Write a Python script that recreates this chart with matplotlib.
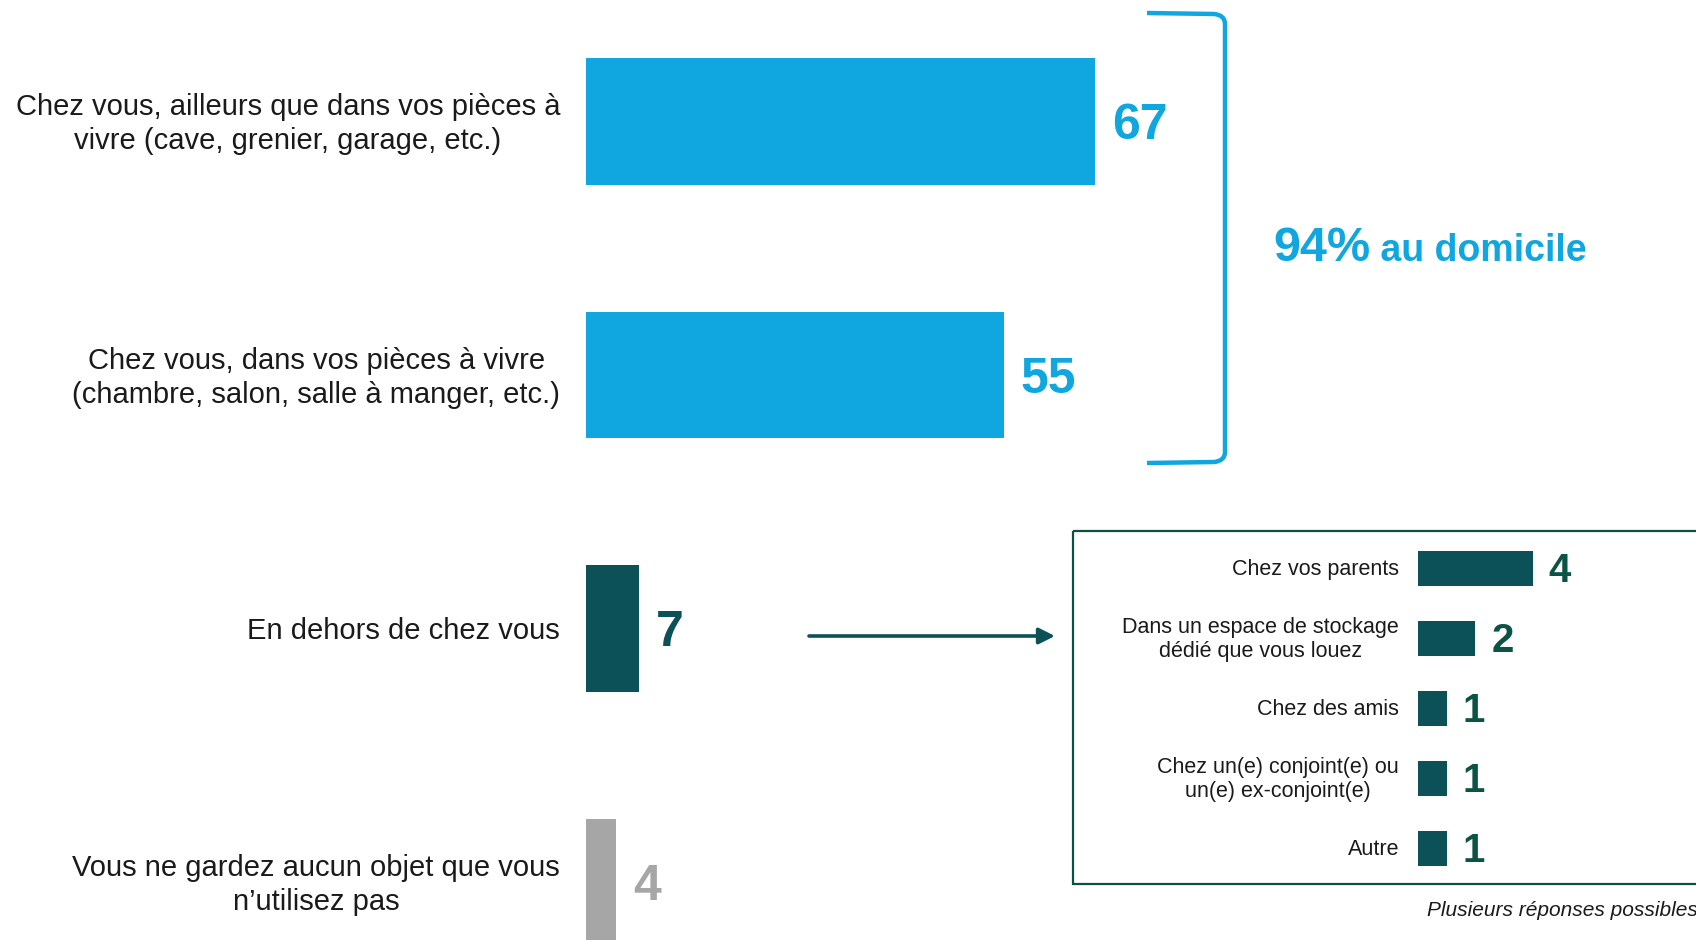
import matplotlib
matplotlib.use('Agg')
import matplotlib.pyplot as plt
from matplotlib.path import Path
from matplotlib.patches import PathPatch, Rectangle

plt.rcParams['font.family'] = ['Liberation Sans', 'DejaVu Sans']

# ---------------- data ----------------
categories = [
    "Chez vous, ailleurs que dans vos pièces à\nvivre (cave, grenier, garage, etc.)",
    "Chez vous, dans vos pièces à vivre\n(chambre, salon, salle à manger, etc.)",
    "En dehors de chez vous",
    "Vous ne gardez aucun objet que vous\nn’utilisez pas",
]
values = [67, 55, 7, 4]

sub_categories = [
    "Chez vos parents",
    "Dans un espace de stockage\ndédié que vous louez",
    "Chez des amis",
    "Chez un(e) conjoint(e) ou\nun(e) ex-conjoint(e)",
    "Autre",
]
sub_values = [4, 2, 1, 1, 1]

total_label = "94%"
total_suffix = " au domicile"
note = "Plusieurs réponses possibles"

# ---------------- style ----------------
BLUE = '#10A6DF'
TEAL = '#0C5157'
GRAY = '#A6A6A6'
GREEN_TXT = '#0B5345'
TXT = '#1A1A1A'
bar_colors = [BLUE, BLUE, TEAL, GRAY]

W, H = 1696, 940
fig = plt.figure(figsize=(W / 100, H / 100), dpi=100)

# overlay axes in pixel coordinates for annotations
ov = fig.add_axes([0, 0, 1, 1])
ov.set_xlim(0, W)
ov.set_ylim(H, 0)
ov.axis('off')

# ---------------- main bars ----------------
x0 = 586
ppu = 7.6
pitch = 253.5
c0 = 121.5
ax = fig.add_axes([x0 / W, 0, 760 / W, 1])
ax.set_xlim(0, 760 / ppu)
ax.set_ylim((H - c0) / pitch, -c0 / pitch)
ax.barh(range(len(values)), values, height=0.5, color=bar_colors)
ax.axis('off')
val_fs = 36
for i, (lab, v, c) in enumerate(zip(categories, values, bar_colors)):
    ax.annotate(lab, xy=(0, i), xytext=(-18.7, -2),
                textcoords='offset points', ha='right', va='center',
                multialignment='center', linespacing=1.28, fontsize=21, color=TXT)
    ax.annotate(str(v), xy=(v, i), xytext=(12, -0.358 * val_fs),
                textcoords='offset points', ha='left', va='baseline',
                fontsize=val_fs, fontweight='bold', color=c)

# ---------------- inset bars ----------------
ix0 = 1418
ippu = 28.7
iax = fig.add_axes([ix0 / W, 1 - 883 / H, (W - ix0) / W, 350 / H])
iax.set_xlim(0, (W - ix0) / ippu)
iax.set_ylim(len(sub_values) - 0.5, -0.5)
iax.barh(range(len(sub_values)), sub_values, height=0.5, color=TEAL)
iax.axis('off')
sub_fs = 29
for i, (lab, v) in enumerate(zip(sub_categories, sub_values)):
    iax.annotate(lab, xy=(0, i), xytext=(-13.7, -1.3),
                 textcoords='offset points', ha='right', va='center',
                 multialignment='center', fontsize=15.5, color=TXT)
    iax.annotate(str(v), xy=(v, i), xytext=(11.5, -0.358 * sub_fs),
                 textcoords='offset points', ha='left', va='baseline',
                 fontsize=sub_fs, fontweight='bold', color=GREEN_TXT)

# inset frame
ov.add_patch(Rectangle((1073, 531), 700, 353, fill=False, edgecolor='#0B5045', lw=1.6))

# arrow
ov.annotate('', xy=(1055, 636), xytext=(809, 636),
            arrowprops=dict(arrowstyle='-|>', color=TEAL, lw=2.6,
                            mutation_scale=24, shrinkA=0, shrinkB=0))

# bracket
verts = [(1147, 13), (1214, 14), (1225, 15), (1225, 24), (1225, 452),
         (1225, 461), (1214, 462), (1147, 463)]
codes = [Path.MOVETO, Path.LINETO, Path.CURVE3, Path.CURVE3, Path.LINETO,
         Path.CURVE3, Path.CURVE3, Path.LINETO]
ov.add_patch(PathPatch(Path(verts, codes), fill=False, edgecolor=BLUE, lw=3.2,
                       capstyle='butt', joinstyle='round'))

# total text
t1 = ov.text(1273, 261, total_label, fontsize=35, fontweight='bold', color=BLUE,
             va='baseline', ha='left')
fig.canvas.draw()
bb = t1.get_window_extent()
xr = ov.transData.inverted().transform((bb.x1, 0))[0]
ov.text(xr, 261, total_suffix, fontsize=27, fontweight='bold', color=BLUE,
        va='baseline', ha='left')

# note
ov.text(1427, 911, note, style='italic', fontsize=15, va='center', ha='left', color=TXT)

fig.savefig('out.png', dpi=100)
